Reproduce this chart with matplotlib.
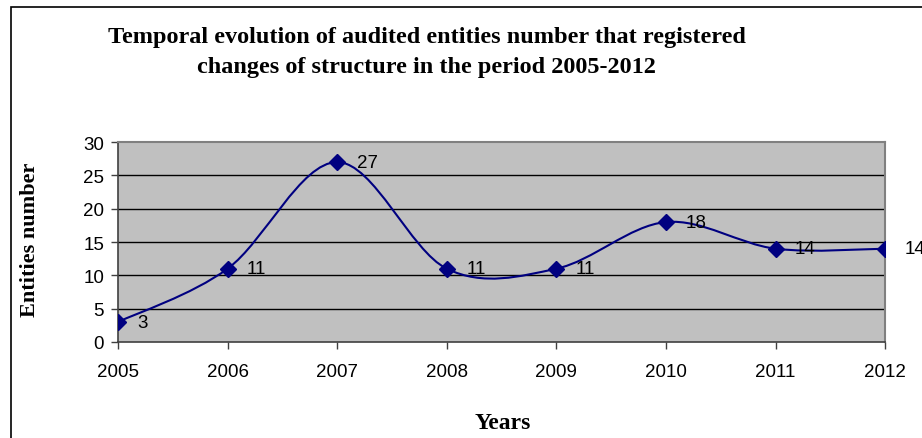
import matplotlib.pyplot as plt
from matplotlib.path import Path
from matplotlib.patches import PathPatch, Rectangle

years = [2005, 2006, 2007, 2008, 2009, 2010, 2011, 2012]
entities = [3, 11, 27, 11, 11, 18, 14, 14]
yticks = [0, 5, 10, 15, 20, 25, 30]

LINE = '#000080'


def smooth_path(x, y):
    # Excel-like smoothed line: cubic Bezier segments (Catmull-Rom tangents)
    verts = [(x[0], y[0])]
    codes = [Path.MOVETO]
    n = len(x)
    for i in range(n - 1):
        x0, y0 = (x[i - 1], y[i - 1]) if i > 0 else (x[i], y[i])
        x3, y3 = (x[i + 2], y[i + 2]) if i + 2 < n else (x[i + 1], y[i + 1])
        c1 = (x[i] + (x[i + 1] - x0) / 6, y[i] + (y[i + 1] - y0) / 6)
        c2 = (x[i + 1] - (x3 - x[i]) / 6, y[i + 1] - (y3 - y[i]) / 6)
        verts += [c1, c2, (x[i + 1], y[i + 1])]
        codes += [Path.CURVE4] * 3
    return Path(verts, codes)


fig = plt.figure(figsize=(9.22, 4.39), dpi=100)
ax = fig.add_axes([0.128, 0.2187, 0.832, 0.4553])
ax.set_facecolor('#C0C0C0')

ax.add_patch(PathPatch(smooth_path(years, entities), fill=False,
                       edgecolor=LINE, linewidth=1.5, zorder=3))
ax.plot(years, entities, linestyle='none', marker='D', markersize=8.5,
        color=LINE, zorder=4)
for xv, yv in zip(years, entities):
    ax.annotate(str(yv), (xv, yv), xytext=(14, 0), textcoords='offset points',
                va='center', ha='left', fontsize=13.5, family='Liberation Sans',
                annotation_clip=False, zorder=5)

ax.set_xlim(2005, 2012)
ax.set_ylim(0, 30)
ax.set_xticks(years)
ax.set_yticks(yticks)
ax.tick_params(labelsize=13.5, length=5, width=1, color='#404040', pad=10)
ax.tick_params(axis='y', pad=5)
for lab in ax.get_xticklabels() + ax.get_yticklabels():
    lab.set_family('Liberation Sans')
for yv in yticks[1:-1]:
    ax.axhline(yv, color='black', linewidth=1, zorder=1)
for s in ['top', 'right']:
    ax.spines[s].set_color('#808080')
    ax.spines[s].set_linewidth(1.5)
for s in ['left', 'bottom']:
    ax.spines[s].set_color('#404040')
    ax.spines[s].set_linewidth(1.2)

fig.text(503 / 922, 1 - 424 / 439, 'Years', ha='center', va='center',
         family='Liberation Serif', fontweight='bold', fontsize=17)
fig.text(30 / 922, 1 - 240 / 439, 'Entities number', ha='center', va='center',
         rotation=90, family='Liberation Serif', fontweight='bold', fontsize=16)

fig.text(0.463, 1 - 38 / 439, 'Temporal evolution of audited entities number that registered',
         ha='center', va='center', family='Liberation Serif', fontweight='bold',
         fontsize=17.5)
fig.text(0.463, 1 - 67 / 439, 'changes of structure in the period 2005-2012',
         ha='center', va='center', family='Liberation Serif', fontweight='bold',
         fontsize=17.5)

# outer chart border (runs off the right and bottom of the picture)
fig.patches.append(Rectangle((10.5 / 922, -0.1), 1.2, 1 - 7.5 / 439 + 0.1,
                             transform=fig.transFigure, fill=False,
                             edgecolor='black', linewidth=1.2))

fig.savefig('out.png', dpi=100)
